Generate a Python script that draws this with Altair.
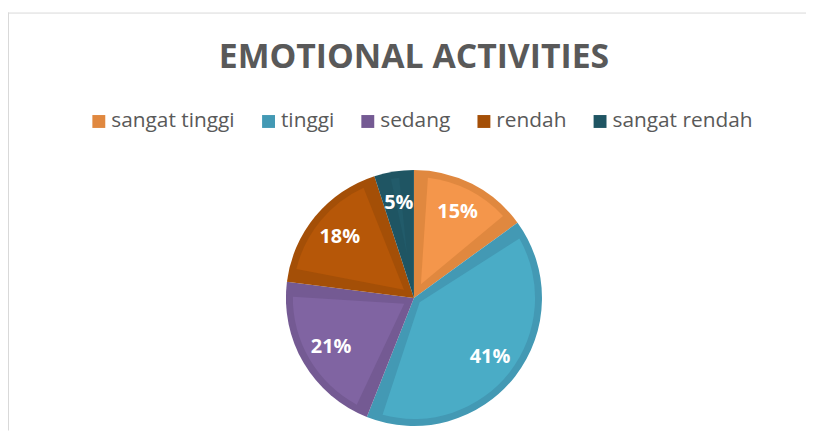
import altair as alt
import pandas as pd

title_text = ["EMOTIONAL ACTIVITIES"]
categories = ["sangat tinggi", "tinggi", "sedang", "rendah", "sangat rendah"]
values = [15, 41, 21, 18, 5]
labels = ["15%", "41%", "21%", "18%", "5%"]
border_colors = ["#E0883F", "#4399B4", "#745A93", "#A44F07", "#1F5563"]
fill_colors = ["#F4964B", "#4AACC6", "#8064A2", "#B65708", "#225B6A"]

df = pd.DataFrame({
    "kategori": categories,
    "nilai": values,
    "label": labels,
    "urutan": list(range(len(categories))),
})

CX, CY = 409, 290.5
R = 129
INSET = 7

base = alt.Chart(df).encode(
    theta=alt.Theta("nilai:Q", stack=True),
    order=alt.Order("urutan:Q"),
    x=alt.value(CX),
    y=alt.value(CY),
)

outer = base.mark_arc(outerRadius=R).encode(
    color=alt.Color(
        "kategori:N",
        scale=alt.Scale(domain=categories, range=border_colors),
        sort=categories,
        legend=alt.Legend(
            orient="none",
            legendX=81,
            legendY=102,
            direction="horizontal",
            title=None,
            symbolType="square",
            symbolSize=169,
            symbolStrokeWidth=0,
            symbolOpacity=1,
            labelFont="Open Sans",
            labelFontSize=21,
            labelColor="#595959",
            labelOffset=2,
            columnPadding=23,
            labelLimit=400,
            padding=0,
        ),
    )
)

# inner lighter panel of each slice, inset by INSET px on every side
inner = base.transform_joinaggregate(
    total="sum(nilai)"
).transform_calculate(
    r_out=f"{R - INSET}",
    r_in=f"{INSET} / sin(PI * datum.nilai / datum.total)",
).mark_arc(padAngle=4 * INSET / (R - INSET)).encode(
    radius=alt.Radius("r_out:Q", scale=None),
    radius2=alt.Radius2("r_in:Q"),
    fill=alt.Fill(
        "kategori:N",
        scale=alt.Scale(domain=categories, range=fill_colors),
        legend=None,
    ),
)

text = base.mark_text(
    radius=97, font="Open Sans", fontSize=20, fontWeight="bold", color="white"
).encode(text="label:N")

title_df = pd.DataFrame({"judul": title_text})
title = alt.Chart(title_df).mark_text(
    font="Open Sans", fontSize=34, fontWeight="bold", color="#595959",
    align="center", baseline="alphabetic",
).encode(text="judul:N", x=alt.value(CX), y=alt.value(59))

frame_df = pd.DataFrame({"a": [0]})
top_line = alt.Chart(frame_df).mark_rule(color="#D9D9D9", strokeWidth=1).encode(
    x=alt.value(0), x2=alt.value(804), y=alt.value(3.5)
)
left_line = alt.Chart(frame_df).mark_rule(color="#D9D9D9", strokeWidth=2).encode(
    x=alt.value(0), y=alt.value(3), y2=alt.value(424)
)

chart = alt.layer(top_line, left_line, outer, inner, text, title).properties(
    width=804,
    height=424,
    padding=0,
    autosize=alt.AutoSizeParams(type="none"),
    background="white",
).configure_view(stroke=None)

chart.save("out.html", embed_options={"renderer": "svg", "actions": False})
